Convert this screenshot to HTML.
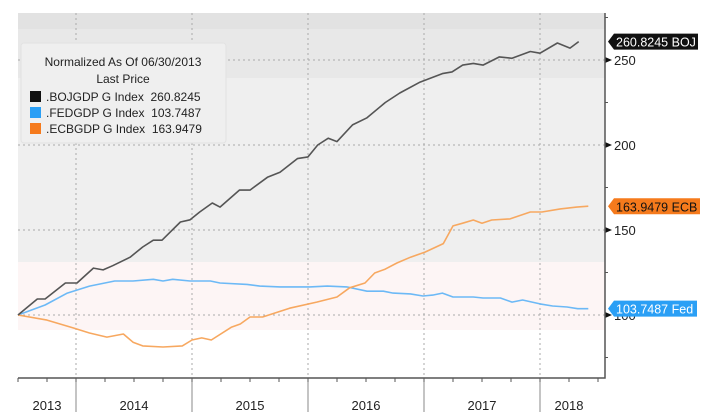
<!DOCTYPE html>
<html><head><meta charset="utf-8"><style>
html,body{margin:0;padding:0;background:#fff;}
svg{display:block;font-family:"Liberation Sans","DejaVu Sans",sans-serif;}
.pre{white-space:pre;}
</style></head><body>
<svg id="chart" width="720" height="415" viewBox="0 0 720 415">
  <g>
    <rect x="18" y="13" width="587" height="16" fill="#e2e2e2"/>
    <rect x="18" y="29" width="587" height="49" fill="#e8e8e8"/>
    <rect x="18" y="78" width="587" height="184" fill="#efefef"/>
    <rect x="18" y="262" width="587" height="68" fill="#fdf5f5"/>
  </g>
  <g id="grid"></g>
  <g id="series"></g>
  <g id="axes"></g>
  <g>
    <rect x="21" y="43" width="205" height="100" rx="3" fill="#efefef" stroke="#e2e2e2"/>
    <text x="123" y="66" font-size="12" text-anchor="middle" fill="#222">Normalized As Of 06/30/2013</text>
    <text x="123" y="83" font-size="12" text-anchor="middle" fill="#222">Last Price</text>
    <rect x="30" y="91" width="11" height="11" fill="#111"/>
    <text class="pre" x="46" y="101" font-size="12" fill="#222">.BOJGDP G Index  260.8245</text>
    <rect x="30" y="107" width="11" height="11" fill="#2a9ff5"/>
    <text class="pre" x="46" y="117" font-size="12" fill="#222">.FEDGDP G Index  103.7487</text>
    <rect x="30" y="123" width="11" height="11" fill="#f57a1c"/>
    <text class="pre" x="46" y="133" font-size="12" fill="#222">.ECBGDP G Index  163.9479</text>
  </g>
  <g id="tags"></g>
</svg>
<script>
const bojMonths=[0,2,2.8,4.9,6.1,7.8,8.8,9.8,11.6,12.9,14,14.9,16.8,17.8,18.8,20.1,20.9,22.9,24,25.8,27.1,28.9,30,31,32.1,33,34.6,36.1,38,39.5,41.6,43.9,44.9,46,47.1,48.1,49.8,51.1,53,54,55.8,57.1,58];
const bojValues=[100,109.4,109.4,118.8,118.8,127.6,126.5,129,134,140,144,144,154.7,156,160.6,165.9,163.5,173.5,173.5,181,184,192,193,200,204,202,211.8,216,225,230.6,237,242,243,247,248,247,251.8,251,255,254,260,257,260.8];
const fedMonths=[0,2.8,5.1,7.4,10,11.9,14,15,16,17.8,19.9,20.9,23.7,25,27.1,30.2,32,34,36.1,37.8,38.8,40.6,41.9,42.9,43.9,45,47.1,48.1,49.9,51.1,52.2,54,55.3,56.8,57.9,59];
const fedValues=[100,105.9,112.9,117,120,120,121,120,121,120,120,118.8,118,117,116.5,116.5,117,116.5,114,114,112.9,112.4,111.2,111.7,112.9,110.6,110.6,110,110,107.6,108.8,106.5,105.3,104.7,103.7,103.7];
const ecbMonths=[0,3,5.7,7.4,9.2,10.9,11.9,12.9,15,17,18,19,20,22.1,23,24,25.3,28.1,30.9,33,34.3,35.9,36.9,38,39.2,40.6,42.1,44,45,46,47.1,48,49,50.9,53,54.2,56.1,57.8,59];
const ecbValues=[100,97,92.4,89.4,87,88.8,84,81.8,81.2,81.8,85.3,86.5,85.3,92.9,94.7,98.8,98.8,104,107.6,110.6,116,118.8,124.7,127,130.6,134,137,142,152.4,154,155.9,154,155.9,156.5,160.6,160.6,162.4,163.5,164];
const yTicks=[100,150,200,250];
const yMinorTicks=[75,125,175,225,275];
const yearLabels=["2013","2014","2015","2016","2017","2018"];
const yearStartMonths=[-6,6,18,30,42,54];
const tagLabels=["260.8245 BOJ","163.9479 ECB","103.7487 Fed"];
const tagValues=[260.8245,163.9479,103.7487];

const NS="http://www.w3.org/2000/svg";
const x0=18, pxPerMonth=116/12;
function xs(m){return x0+m*pxPerMonth;}
function ys(v){return 315-(v-100)*1.7;}
function mk(tag,attrs,parent){const e=document.createElementNS(NS,tag);for(const k in attrs)e.setAttribute(k,attrs[k]);parent.appendChild(e);return e;}
const grid=document.getElementById('grid'),axes=document.getElementById('axes'),series=document.getElementById('series'),tags=document.getElementById('tags');
const yTop=13,yBottom=378,xRight=605;
yTicks.forEach(v=>{
  const l=mk('line',{x1:x0,x2:xRight,y1:ys(v),y2:ys(v),stroke:'#aaa','stroke-dasharray':'2,3'},grid);
  
  
  const a=mk('path',{d:`M${xRight} ${ys(v)-3}L${xRight+7} ${ys(v)}L${xRight} ${ys(v)+3}Z`,fill:'#111'},axes);
  
  
  const t=mk('text',{x:xRight+9,y:ys(v)+5,'font-size':13,fill:'#222'},axes);
  t.textContent=v;
  
  
});
yMinorTicks.forEach(v=>{
  const l=mk('line',{x1:xRight,x2:xRight+3,y1:ys(v),y2:ys(v),stroke:'#555'},axes);
  
  
});
yearStartMonths.forEach((m,i)=>{
  if(i>0){
    const g=mk('line',{x1:xs(m),x2:xs(m),y1:yTop,y2:yBottom,stroke:'#aaa','stroke-dasharray':'2,3'},grid);
    
    
    const t=mk('line',{x1:xs(m),x2:xs(m),y1:yBottom,y2:412,stroke:'#888'},axes);
    
    
  }
  const s=Math.max(m,0), e=Math.min(m+12,60);
  const lbl=mk('text',{x:(xs(s)+xs(e))/2,y:410,'font-size':13,'text-anchor':'middle',fill:'#222'},axes);
  lbl.textContent=yearLabels[i];
  
  
});
for(let q=0;q<=60;q+=3){
  const l=mk('line',{x1:xs(q),x2:xs(q),y1:yBottom,y2:yBottom+4,stroke:'#555'},axes);
  
  
}
const ax=mk('path',{d:`M${x0} ${yBottom}H${xRight}V${yTop}`,fill:'none',stroke:'#555','stroke-width':1.5},axes);


function line(ms,vs,color,name){
  const d=ms.map((m,i)=>(i?'L':'M')+xs(m).toFixed(1)+' '+ys(vs[i]).toFixed(1)).join('');
  const p=mk('path',{d:d,fill:'none',stroke:color,'stroke-width':1.6,'stroke-linejoin':'round'},series);
  
  
}
line(fedMonths,fedValues,'#6cb9f6','fed-line');
line(ecbMonths,ecbValues,'#f7a860','ecb-line');
line(bojMonths,bojValues,'#555555','boj-line');
const tagColors=['#111','#f57a1c','#2a9ff5'],tagText=['#fff','#111','#fff'],tagW=[90,92,89],tagNames=['boj-value-tag','ecb-value-tag','fed-value-tag'];
tagValues.forEach((v,i)=>{
  const y=ys(v),x=608,h=16;
  const p=mk('path',{d:`M${x} ${y}L${x+6} ${y-h/2}H${x+tagW[i]}V${y+h/2}H${x+6}Z`,fill:tagColors[i]},tags);
  
  
  const t=mk('text',{x:x+8,y:y+5,'font-size':12.5,fill:tagText[i]},tags);
  t.textContent=tagLabels[i];
  
  
});
</script>
</body></html>
